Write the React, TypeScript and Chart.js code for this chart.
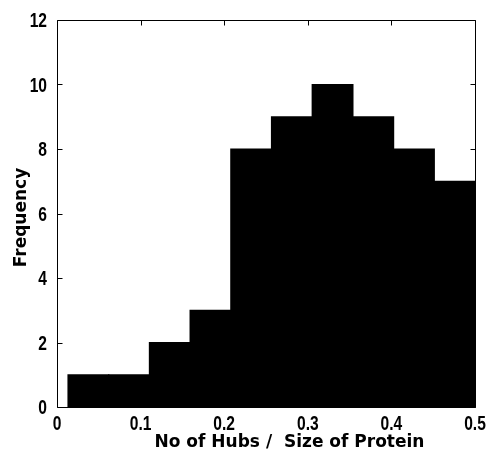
import React, { useEffect, useRef } from "react";
import { Chart, registerables } from "chart.js";

Chart.register(...registerables);

// Histogram bin edges (x) and counts (y)
const binEdges = [0.0132, 0.06188, 0.11056, 0.15924, 0.20792, 0.2566, 0.30528, 0.35396, 0.40264, 0.45132, 0.5];
const counts = [1, 1, 2, 3, 8, 9, 10, 9, 8, 7];

const xTicks = [0, 0.1, 0.2, 0.3, 0.4, 0.5];
const xTickLabels = ["0", "0.1", "0.2", "0.3", "0.4", "0.5"];
const yTicks = [0, 2, 4, 6, 8, 10, 12];
const yTickLabels = ["0", "2", "4", "6", "8", "10", "12"];

const xTitle = "No of Hubs /  Size of Protein";
const yTitle = "Frequency";

const TICK_FONT = "bold 19.5px 'Liberation Sans', Arial, sans-serif";
const TICK_SQUEEZE = 0.8;
const TITLE_FONT = "bold 17px 'DejaVu Sans', sans-serif";

const frameAndTitles = {
  id: "frameAndTitles",
  afterDraw(chart: any) {
    const { ctx, chartArea } = chart;
    const { left, right, top, bottom } = chartArea;
    const xs = chart.scales.x;
    const ys = chart.scales.y;
    ctx.save();
    ctx.strokeStyle = "#000";
    ctx.lineWidth = 1;
    ctx.beginPath();
    const L = Math.round(left) + 0.5;
    const R = Math.round(right) + 0.5;
    const T = Math.round(top) + 0.5;
    const B = Math.round(bottom) + 0.5;
    ctx.rect(L, T, R - L, B - T);
    const tl = 5;
    xTicks.forEach((v) => {
      const px = Math.round(xs.getPixelForValue(v)) + 0.5;
      ctx.moveTo(px, B);
      ctx.lineTo(px, B - tl);
      ctx.moveTo(px, T);
      ctx.lineTo(px, T + tl);
    });
    yTicks.forEach((v) => {
      const py = Math.round(ys.getPixelForValue(v)) + 0.5;
      ctx.moveTo(L, py);
      ctx.lineTo(L + tl, py);
      ctx.moveTo(R, py);
      ctx.lineTo(R - tl, py);
    });
    ctx.stroke();

    ctx.fillStyle = "#000";
    // tick labels (condensed bold)
    ctx.font = TICK_FONT;
    ctx.textBaseline = "alphabetic";
    xTicks.forEach((v, i) => {
      const px = xs.getPixelForValue(v);
      ctx.save();
      ctx.translate(px, bottom + 23);
      ctx.scale(TICK_SQUEEZE, 1);
      ctx.textAlign = "center";
      ctx.fillText(xTickLabels[i], 0, 0);
      ctx.restore();
    });
    yTicks.forEach((v, i) => {
      const py = ys.getPixelForValue(v);
      ctx.save();
      ctx.translate(left - 10, py + 7);
      ctx.scale(TICK_SQUEEZE, 1);
      ctx.textAlign = "right";
      ctx.fillText(yTickLabels[i], 0, 0);
      ctx.restore();
    });

    // axis titles
    ctx.font = TITLE_FONT;
    ctx.textAlign = "center";
    ctx.textBaseline = "alphabetic";
    ctx.fillText(xTitle, 289.5, 447);
    ctx.translate(25.5, 217.5);
    ctx.rotate(-Math.PI / 2);
    ctx.fillText(yTitle, 0, 0);
    ctx.restore();
  },
};

export default function App() {
  const ref = useRef<HTMLCanvasElement>(null);
  useEffect(() => {
    if (!ref.current) return;
    const centers = counts.map((_, i) => (binEdges[i] + binEdges[i + 1]) / 2);
    const chart = new Chart(ref.current, {
      type: "bar",
      data: {
        datasets: [
          {
            label: "Frequency",
            data: counts.map((c, i) => ({ x: centers[i], y: c })),
            backgroundColor: "#000",
            borderWidth: 0,
            barPercentage: 1,
            categoryPercentage: 1,
            inflateAmount: 0.6,
          } as any,
        ],
      },
      options: {
        responsive: false,
        animation: false,
        devicePixelRatio: 1,
        layout: { padding: { left: 0, top: 20, right: 12, bottom: 0 } },
        plugins: { legend: { display: false }, tooltip: { enabled: false }, title: { display: false } },
        scales: {
          x: {
            type: "linear",
            min: 0,
            max: 0.5,
            offset: false,
            grid: { display: false, drawTicks: false },
            border: { display: false },
            afterBuildTicks: (s: any) => {
              s.ticks = xTicks.map((v) => ({ value: v }));
            },
            afterFit: (s: any) => {
              s.height = 44;
              s.paddingLeft = 0;
              s.paddingRight = 0;
            },
            ticks: { display: false },
          },
          y: {
            type: "linear",
            min: 0,
            max: 12,
            grid: { display: false, drawTicks: false },
            border: { display: false },
            afterBuildTicks: (s: any) => {
              s.ticks = yTicks.map((v) => ({ value: v }));
            },
            afterFit: (s: any) => {
              s.width = 57;
              s.paddingTop = 0;
              s.paddingBottom = 0;
            },
            ticks: { display: false },
          },
        },
      },
      plugins: [frameAndTitles],
    });
    return () => chart.destroy();
  }, []);
  return (
    <div style={{ position: "absolute", left: 0, top: 0, width: 487, height: 451, background: "#fff" }}>
      <canvas ref={ref} width={487} height={451} style={{ display: "block" }} />
    </div>
  );
}
